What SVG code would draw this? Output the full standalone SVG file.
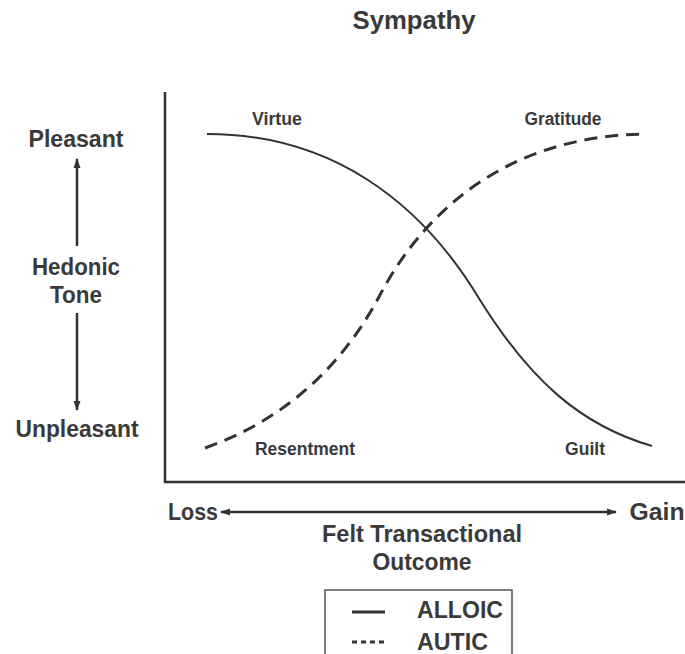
<svg xmlns="http://www.w3.org/2000/svg" width="685" height="654" viewBox="0 0 685 654">
<style>
.t{font-family:"Liberation Sans",Arial,sans-serif;font-weight:bold;fill:#3a3a3a;text-anchor:middle}
.big{font-size:23px}
.sm{font-size:17.5px}
.ax{stroke:#333;stroke-width:2.5;fill:none}
.arr{stroke:#333;stroke-width:2.5;fill:none}
</style>
<defs>
<marker id="ah" viewBox="0 0 10 10" refX="9" refY="5" markerWidth="4" markerHeight="4" orient="auto-start-reverse" markerUnits="strokeWidth">
<path d="M0,1.5 L10,5 L0,8.5 z" fill="#333"/>
</marker>
</defs>
<rect width="685" height="654" fill="#fff"/>
<text class="t" x="414" y="29" font-size="26" textLength="123" lengthAdjust="spacingAndGlyphs">Sympathy</text>
<g id="axes">
<path class="ax" d="M165,92 V482 H685"/>
</g>
<g id="y-labels">
<text class="t big" x="76" y="147" textLength="95" lengthAdjust="spacingAndGlyphs">Pleasant</text>
<text class="t big" x="76" y="275" textLength="88" lengthAdjust="spacingAndGlyphs">Hedonic</text>
<text class="t big" x="76" y="303" textLength="52" lengthAdjust="spacingAndGlyphs">Tone</text>
<text class="t big" x="77" y="437" textLength="123" lengthAdjust="spacingAndGlyphs">Unpleasant</text>
</g>
<g id="x-labels">
<text class="t big" x="193" y="520" textLength="50" lengthAdjust="spacingAndGlyphs">Loss</text>
<text class="t big" x="657" y="520" textLength="55" lengthAdjust="spacingAndGlyphs">Gain</text>
<text class="t big" x="422" y="542" textLength="200" lengthAdjust="spacingAndGlyphs">Felt Transactional</text>
<text class="t big" x="422" y="570" textLength="99" lengthAdjust="spacingAndGlyphs">Outcome</text>
</g>
<g id="connectors">
<line class="arr" x1="77" y1="246" x2="77" y2="159" marker-end="url(#ah)"/>
<line class="arr" x1="77" y1="313" x2="77" y2="410" marker-end="url(#ah)"/>
<line class="arr" x1="221" y1="512" x2="616" y2="512" marker-start="url(#ah)" marker-end="url(#ah)"/>
</g>
<g id="curves">
<path id="alloic" d="M207,134 C330,134 420,200 480,300 C530,380 580,425 652,446" stroke="#333" stroke-width="2" fill="none"/>
<path id="autic" d="M205,448 C270,425 335,380 380,295 C420,219 500,136 645,134" stroke="#333" stroke-width="3" fill="none" stroke-dasharray="13,8"/>
</g>
<g id="curve-labels">
<text class="t sm" x="277" y="125" textLength="50" lengthAdjust="spacingAndGlyphs">Virtue</text>
<text class="t sm" x="563" y="125" textLength="77" lengthAdjust="spacingAndGlyphs">Gratitude</text>
<text class="t sm" x="305" y="455" textLength="100" lengthAdjust="spacingAndGlyphs">Resentment</text>
<text class="t sm" x="585" y="455" textLength="40" lengthAdjust="spacingAndGlyphs">Guilt</text>
</g>
<g id="legend">
<rect x="325" y="590" width="187" height="70" fill="none" stroke="#555" stroke-width="1.5"/>
<line x1="352" y1="612" x2="385" y2="612" stroke="#333" stroke-width="3"/>
<line x1="352" y1="642" x2="385" y2="642" stroke="#333" stroke-width="3" stroke-dasharray="5,4"/>
<text class="t" x="417" y="618" font-size="23" style="text-anchor:start" textLength="86" lengthAdjust="spacingAndGlyphs">ALLOIC</text>
<text class="t" x="417" y="650" font-size="23" style="text-anchor:start" textLength="71" lengthAdjust="spacingAndGlyphs">AUTIC</text>
</g>
</svg>
